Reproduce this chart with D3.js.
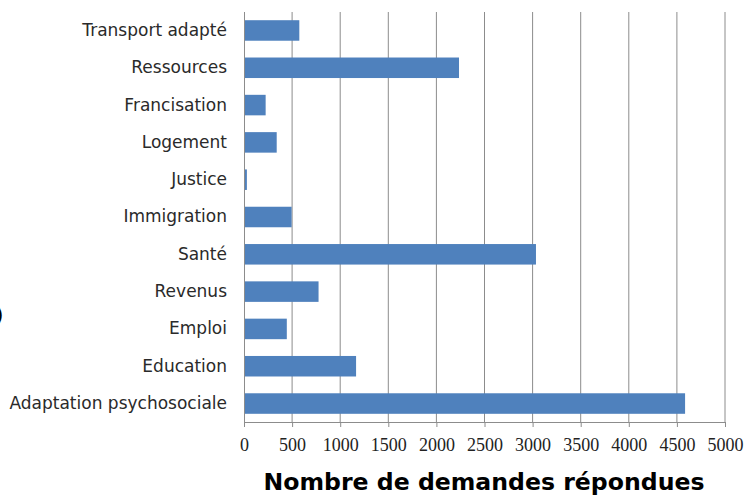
<!DOCTYPE html>
<html>
<head>
<meta charset="utf-8">
<script src="https://cdn.jsdelivr.net/npm/d3@7"></script>
<style>
  body { margin: 0; background: #fff; }
</style>
</head>
<body>
<div id="chart"></div>
<script>
// categories, top to bottom as drawn
const categories = ["Transport adapté", "Ressources", "Francisation", "Logement", "Justice",
  "Immigration", "Santé", "Revenus", "Emploi", "Education", "Adaptation psychosociale"];
const demandes = [575, 2235, 225, 340, 30, 495, 3035, 775, 445, 1165, 4585];
const xTicks = [0, 500, 1000, 1500, 2000, 2500, 3000, 3500, 4000, 4500, 5000];
const xTitle = "Nombre de demandes répondues";

const data = categories.map((c, i) => ({cat: c, val: demandes[i]}));

const W = 744, H = 497;
const margin = {top: 12, right: 19, bottom: 75, left: 244};
const width = W - margin.left - margin.right,
      height = H - margin.top - margin.bottom;

const svg = d3.select("#chart").append("svg")
  .attr("width", W).attr("height", H);
const g = svg.append("g").attr("transform", `translate(${margin.left},${margin.top})`);

const x = d3.scaleLinear().domain([0, 5000]).range([0, width]);
const y = d3.scaleBand().domain(categories).range([0, height])
  .paddingInner(0.45).paddingOuter(0.22);

// gridlines
g.append("g")
  .selectAll("line")
  .data(xTicks.slice(1))
  .enter().append("line")
    .attr("x1", d => x(d)).attr("x2", d => x(d))
    .attr("y1", 0).attr("y2", height)
    .attr("stroke", "#8c8c8c").attr("stroke-width", 1);

// bars
g.append("g")
  .selectAll("rect")
  .data(data)
  .enter().append("rect")
    .attr("x", x(0))
    .attr("y", d => y(d.cat))
    .attr("width", d => x(d.val) - x(0))
    .attr("height", y.bandwidth())
    .attr("fill", "#4f81bd");

// x axis
const xAxis = g.append("g")
  .attr("transform", `translate(0,${height})`)
  .call(d3.axisBottom(x).tickValues(xTicks).tickSize(5).tickPadding(11).tickFormat(d3.format("d")));
xAxis.select(".domain").attr("stroke", "#8c8c8c");
xAxis.selectAll(".tick line").attr("stroke", "#8c8c8c");
xAxis.selectAll("text")
  .attr("fill", "#222")
  .attr("font-family", "'Liberation Serif', 'Times New Roman', serif")
  .attr("font-size", 18);

// y axis
const yAxis = g.append("g")
  .call(d3.axisLeft(y).tickSize(0).tickPadding(17));
yAxis.select(".domain").attr("stroke", "#8c8c8c").attr("d", `M0.5,0V${height + 5}`);
yAxis.selectAll("text")
  .attr("fill", "#2a2a2a")
  .attr("font-family", "'DejaVu Sans', sans-serif")
  .attr("font-size", 17);

// axis title
svg.append("text")
  .attr("x", 484)
  .attr("y", 490)
  .attr("text-anchor", "middle")
  .attr("font-family", "'DejaVu Sans', sans-serif")
  .attr("font-weight", "bold")
  .attr("font-size", 23.6)
  .attr("fill", "#000")
  .text(xTitle);

// leftover of a clipped vertical title at the left edge
svg.append("text")
  .attr("x", -5)
  .attr("y", 322)
  .attr("font-family", "'DejaVu Sans', sans-serif")
  .attr("font-size", 22)
  .attr("fill", "#000")
  .text(")");
</script>
</body>
</html>
